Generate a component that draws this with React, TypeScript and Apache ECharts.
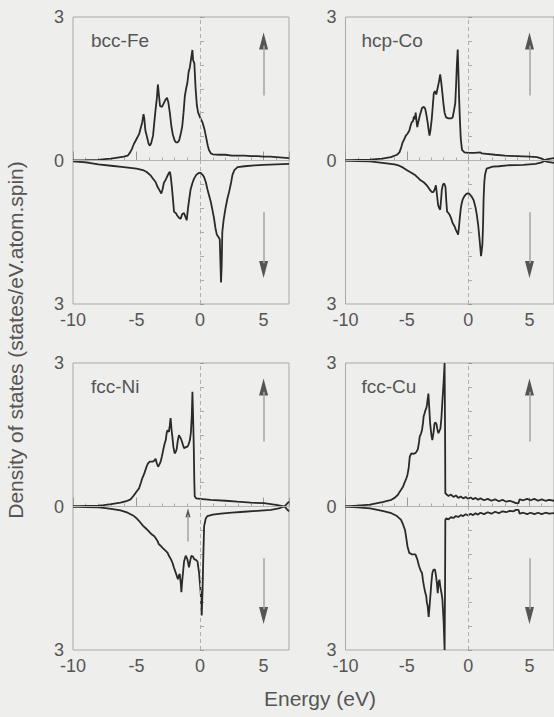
import React, { useEffect, useRef } from "react";
import * as echarts from "echarts";

// Spin-resolved density of states, [energy (eV), states/eV.atom.spin].
// Minority-spin values are stored as magnitudes and drawn below zero.
const feUp: number[][] = [
  [-10, 0], [-9, 0.005], [-8, 0.015], [-7.5, 0.03], [-7, 0.04], [-6.5, 0.06], [-6, 0.08], [-5.7, 0.1],
  [-5.5, 0.17], [-5.35, 0.25], [-5.2, 0.35], [-5.0, 0.45], [-4.8, 0.55], [-4.65, 0.7], [-4.55, 0.8],
  [-4.45, 0.97], [-4.4, 0.9], [-4.3, 0.62], [-4.2, 0.52], [-4.05, 0.35], [-3.95, 0.31], [-3.85, 0.36],
  [-3.7, 0.52], [-3.6, 0.8], [-3.5, 1.07], [-3.4, 1.3], [-3.32, 1.59], [-3.25, 1.4], [-3.15, 1.14],
  [-3.0, 1.12], [-2.85, 1.2], [-2.7, 1.28], [-2.6, 1.31], [-2.5, 1.22], [-2.38, 1.0], [-2.25, 0.7],
  [-2.15, 0.55], [-2.0, 0.42], [-1.9, 0.38], [-1.75, 0.38], [-1.65, 0.42], [-1.5, 0.58], [-1.4, 0.72],
  [-1.3, 1.0], [-1.2, 1.34], [-1.1, 1.5], [-1.0, 1.62], [-0.9, 1.85], [-0.8, 1.95], [-0.7, 2.14],
  [-0.6, 2.31], [-0.55, 2.1], [-0.45, 2.03], [-0.35, 1.5], [-0.25, 1.15], [-0.15, 1.0], [0.0, 0.9],
  [0.2, 0.79], [0.35, 0.65], [0.45, 0.52], [0.6, 0.32], [0.7, 0.22], [0.85, 0.15], [1.0, 0.13],
  [1.5, 0.12], [2.0, 0.12], [2.5, 0.1], [3.0, 0.1], [3.5, 0.1], [4.0, 0.09], [4.5, 0.09], [5.0, 0.08],
  [5.5, 0.08], [6.0, 0.07], [6.5, 0.06], [7.0, 0.05],
];
const feDown: number[][] = [
  [-10, 0.02], [-9, 0.04], [-8, 0.08], [-7, 0.11], [-6, 0.14], [-5, 0.17], [-4.5, 0.2], [-4.2, 0.24],
  [-3.9, 0.31], [-3.7, 0.38], [-3.5, 0.45], [-3.35, 0.55], [-3.2, 0.62], [-3.05, 0.69], [-2.95, 0.6],
  [-2.85, 0.47], [-2.7, 0.4], [-2.6, 0.34], [-2.45, 0.26], [-2.37, 0.24], [-2.3, 0.35], [-2.22, 0.55],
  [-2.12, 0.85], [-2.05, 1.07], [-1.9, 1.1], [-1.8, 1.15], [-1.65, 1.2], [-1.53, 1.22], [-1.4, 1.12],
  [-1.26, 1.1], [-1.15, 1.18], [-1.05, 1.25], [-0.95, 1.0], [-0.85, 0.8], [-0.74, 0.6], [-0.6, 0.47],
  [-0.47, 0.38], [-0.3, 0.3], [-0.1, 0.26], [0.05, 0.26], [0.2, 0.3], [0.32, 0.35], [0.45, 0.45],
  [0.58, 0.6], [0.7, 0.72], [0.84, 0.86], [0.95, 1.0], [1.1, 1.21], [1.2, 1.4], [1.32, 1.55],
  [1.45, 1.6], [1.55, 1.65], [1.6, 2.1], [1.65, 2.55], [1.7, 2.2], [1.75, 1.5], [1.85, 1.25],
  [2.0, 1.0], [2.15, 0.8], [2.3, 0.64], [2.45, 0.45], [2.55, 0.3], [2.7, 0.2], [2.95, 0.14],
  [3.5, 0.12], [4.3, 0.1], [5.0, 0.09], [6.0, 0.08], [7.0, 0.07],
];

const coUp: number[][] = [
  [-10, 0], [-9, 0.01], [-8, 0.02], [-7, 0.04], [-6.3, 0.07], [-5.8, 0.12], [-5.6, 0.17], [-5.45, 0.28],
  [-5.34, 0.38], [-5.2, 0.45], [-5.08, 0.52], [-4.95, 0.56], [-4.8, 0.62], [-4.7, 0.72], [-4.6, 0.8],
  [-4.5, 0.82], [-4.42, 0.92], [-4.35, 0.86], [-4.28, 1.0], [-4.2, 0.8], [-4.15, 0.7], [-4.05, 0.82],
  [-3.95, 0.93], [-3.85, 1.02], [-3.76, 1.1], [-3.6, 1.12], [-3.5, 1.08], [-3.4, 0.95], [-3.3, 0.79],
  [-3.2, 0.6], [-3.15, 0.52], [-3.08, 0.62], [-2.97, 0.86], [-2.88, 1.15], [-2.8, 1.41], [-2.7, 1.45],
  [-2.6, 1.38], [-2.5, 1.5], [-2.37, 1.66], [-2.28, 1.8], [-2.2, 1.65], [-2.1, 1.41], [-2.0, 1.15],
  [-1.92, 1.0], [-1.8, 0.9], [-1.6, 0.88], [-1.4, 0.88], [-1.26, 0.9], [-1.15, 1.05], [-1.05, 1.2],
  [-0.98, 1.6], [-0.92, 2.0], [-0.85, 2.32], [-0.8, 1.9], [-0.74, 1.34], [-0.68, 0.9], [-0.6, 0.45],
  [-0.5, 0.22], [-0.3, 0.17], [0, 0.16], [0.5, 0.16], [1.0, 0.17], [1.1, 0.15], [1.5, 0.14],
  [2.2, 0.12], [3.0, 0.1], [4.0, 0.09], [5.0, 0.08], [5.6, 0.07], [6.0, 0.04], [6.2, 0.01],
  [6.5, 0.03], [7.0, 0.05],
];
const coDown: number[][] = [
  [-10, 0], [-9, 0.01], [-8, 0.02], [-7, 0.05], [-6, 0.08], [-5.7, 0.1], [-5.3, 0.15], [-4.95, 0.21],
  [-4.6, 0.26], [-4.3, 0.31], [-4.1, 0.36], [-3.9, 0.41], [-3.6, 0.46], [-3.37, 0.52], [-3.2, 0.58],
  [-3.1, 0.62], [-2.95, 0.66], [-2.84, 0.66], [-2.72, 0.6], [-2.63, 0.52], [-2.55, 0.7], [-2.45, 0.93],
  [-2.35, 1.0], [-2.28, 1.03], [-2.2, 0.8], [-2.15, 0.62], [-2.05, 0.5], [-1.95, 0.48], [-1.85, 0.55],
  [-1.78, 0.85], [-1.72, 1.07], [-1.6, 1.1], [-1.5, 1.14], [-1.4, 1.2], [-1.26, 1.31], [-1.1, 1.38],
  [-1.0, 1.45], [-0.9, 1.5], [-0.82, 1.55], [-0.75, 1.4], [-0.68, 1.2], [-0.6, 1.0], [-0.53, 0.9],
  [-0.45, 0.82], [-0.34, 0.76], [-0.2, 0.71], [-0.08, 0.69], [0.05, 0.69], [0.18, 0.72], [0.3, 0.76],
  [0.45, 0.83], [0.6, 0.98], [0.71, 1.14], [0.82, 1.35], [0.92, 1.62], [1.0, 1.85], [1.05, 2.0],
  [1.1, 1.9], [1.16, 1.76], [1.22, 1.3], [1.26, 0.8], [1.32, 0.45], [1.37, 0.31], [1.5, 0.17],
  [2.0, 0.13], [2.5, 0.12], [3.2, 0.1], [4.5, 0.09], [5.5, 0.07], [6.0, 0.04], [6.2, 0.01],
  [6.5, 0.03], [7.0, 0.05],
];

const niUp: number[][] = [
  [-10, 0], [-9, 0.01], [-8, 0.02], [-7.6, 0.03], [-7, 0.05], [-6.26, 0.08], [-5.8, 0.11], [-5.47, 0.15],
  [-5.25, 0.22], [-5.08, 0.28], [-4.95, 0.33], [-4.8, 0.38], [-4.65, 0.5], [-4.55, 0.59], [-4.4, 0.68],
  [-4.3, 0.76], [-4.2, 0.84], [-4.1, 0.9], [-3.95, 0.94], [-3.75, 0.94], [-3.63, 0.95], [-3.5, 1.0],
  [-3.4, 0.9], [-3.3, 0.83], [-3.2, 0.88], [-3.1, 0.94], [-3.0, 1.05], [-2.9, 1.18], [-2.8, 1.3],
  [-2.7, 1.39], [-2.62, 1.55], [-2.55, 1.6], [-2.45, 1.56], [-2.38, 1.7], [-2.32, 1.85], [-2.25, 1.62],
  [-2.18, 1.46], [-2.1, 1.25], [-2.0, 1.11], [-1.9, 1.15], [-1.84, 1.2], [-1.75, 1.38], [-1.66, 1.49],
  [-1.55, 1.44], [-1.47, 1.39], [-1.36, 1.3], [-1.26, 1.22], [-1.1, 1.24], [-1.0, 1.25], [-0.9, 1.3],
  [-0.8, 1.39], [-0.72, 1.55], [-0.65, 1.9], [-0.6, 2.4], [-0.55, 1.9], [-0.5, 1.32], [-0.45, 0.5],
  [-0.42, 0.21], [-0.3, 0.17], [0, 0.16], [0.84, 0.14], [2.0, 0.12], [2.95, 0.1], [4.0, 0.08],
  [5.05, 0.07], [6.1, 0.03], [6.5, 0.01], [6.65, 0], [6.85, 0.06], [7.0, 0.1],
];
const niDown: number[][] = [
  [-10, 0], [-9, 0.01], [-8, 0.02], [-7.6, 0.03], [-7, 0.05], [-6.26, 0.08], [-5.7, 0.13], [-5.2, 0.2],
  [-4.95, 0.26], [-4.68, 0.34], [-4.5, 0.4], [-4.3, 0.45], [-4.1, 0.5], [-4.03, 0.52], [-3.9, 0.56],
  [-3.76, 0.59], [-3.6, 0.62], [-3.5, 0.66], [-3.35, 0.72], [-3.24, 0.79], [-3.1, 0.82], [-2.97, 0.86],
  [-2.85, 0.89], [-2.7, 0.93], [-2.55, 0.97], [-2.45, 1.03], [-2.3, 1.1], [-2.18, 1.17], [-2.05, 1.28],
  [-1.92, 1.38], [-1.82, 1.46], [-1.74, 1.52], [-1.68, 1.45], [-1.6, 1.41], [-1.52, 1.6], [-1.47, 1.79],
  [-1.42, 1.6], [-1.34, 1.38], [-1.26, 1.15], [-1.13, 1.03], [-1.0, 1.1], [-0.87, 1.27], [-0.75, 1.1],
  [-0.68, 1.03], [-0.55, 1.05], [-0.47, 1.1], [-0.3, 1.12], [-0.2, 1.15], [-0.08, 1.38], [0.05, 1.8],
  [0.13, 2.28], [0.2, 1.72], [0.26, 1.0], [0.32, 0.41], [0.45, 0.25], [0.58, 0.2], [1.0, 0.17],
  [1.63, 0.15], [2.5, 0.13], [3.47, 0.11], [4.5, 0.09], [5.58, 0.07], [6.2, 0.04], [6.5, 0.01],
  [6.65, 0], [6.85, 0.06], [7.0, 0.1],
];

const cuUp: number[][] = [
  [-10, 0], [-9, 0.02], [-8, 0.04], [-7.6, 0.06], [-7, 0.09], [-6.26, 0.14], [-6.0, 0.18], [-5.74, 0.24],
  [-5.6, 0.3], [-5.47, 0.35], [-5.3, 0.42], [-5.2, 0.49], [-5.05, 0.58], [-4.95, 0.66], [-4.85, 0.8],
  [-4.76, 1.04], [-4.63, 1.11], [-4.45, 1.1], [-4.29, 1.12], [-4.2, 1.15], [-4.1, 1.2], [-4.0, 1.35],
  [-3.95, 1.46], [-3.85, 1.52], [-3.76, 1.6], [-3.68, 1.75], [-3.63, 1.88], [-3.55, 1.95], [-3.5, 2.0],
  [-3.42, 2.05], [-3.37, 2.1], [-3.3, 2.25], [-3.24, 2.36], [-3.18, 2.1], [-3.1, 1.74], [-3.0, 1.5],
  [-2.92, 1.39], [-2.82, 1.55], [-2.75, 1.72], [-2.68, 1.76], [-2.58, 1.72], [-2.5, 1.6], [-2.42, 1.53],
  [-2.35, 1.58], [-2.26, 1.63], [-2.18, 1.85], [-2.1, 2.2], [-2.0, 2.6], [-1.92, 3.0], [-1.88, 1.5],
  [-1.86, 0.28], [-1.8, 0.26], [-1.6, 0.22], [-1.4, 0.25], [-1.2, 0.2], [-1.0, 0.23], [-0.8, 0.18],
  [-0.6, 0.21], [-0.4, 0.17], [-0.2, 0.2], [0.0, 0.16], [0.2, 0.19], [0.4, 0.15], [0.6, 0.18],
  [0.8, 0.14], [1.0, 0.17], [1.3, 0.13], [1.6, 0.16], [1.9, 0.12], [2.2, 0.15], [2.5, 0.11],
  [2.8, 0.14], [3.1, 0.1], [3.4, 0.12], [3.7, 0.09], [3.9, 0.07], [4.1, 0.07], [4.2, 0.15],
  [4.5, 0.13], [4.8, 0.16], [5.1, 0.13], [5.4, 0.16], [5.7, 0.12], [6.0, 0.15], [6.3, 0.12],
  [6.6, 0.14], [7.0, 0.12],
];
const cuDown: number[][] = [
  [-10, 0], [-9, 0.02], [-8, 0.04], [-7.6, 0.06], [-7, 0.09], [-6.26, 0.14], [-5.8, 0.2], [-5.47, 0.28],
  [-5.3, 0.38], [-5.15, 0.49], [-5.05, 0.65], [-4.95, 0.83], [-4.8, 0.97], [-4.6, 1.0], [-4.3, 1.0],
  [-4.15, 1.1], [-4.0, 1.25], [-3.85, 1.35], [-3.76, 1.39], [-3.68, 1.55], [-3.6, 1.67], [-3.5, 1.8],
  [-3.42, 1.87], [-3.37, 2.0], [-3.3, 2.08], [-3.22, 2.31], [-3.15, 2.1], [-3.1, 1.94], [-3.0, 1.6],
  [-2.92, 1.39], [-2.82, 1.32], [-2.7, 1.32], [-2.62, 1.45], [-2.55, 1.6], [-2.48, 1.81], [-2.42, 1.6],
  [-2.34, 1.53], [-2.26, 1.69], [-2.18, 1.8], [-2.1, 1.94], [-2.0, 2.4], [-1.92, 3.0], [-1.88, 1.5],
  [-1.86, 0.28], [-1.8, 0.25], [-1.6, 0.27], [-1.4, 0.22], [-1.2, 0.24], [-1.0, 0.2], [-0.8, 0.22],
  [-0.6, 0.18], [-0.4, 0.2], [-0.2, 0.16], [0.0, 0.19], [0.2, 0.15], [0.4, 0.18], [0.6, 0.14],
  [0.8, 0.17], [1.0, 0.13], [1.3, 0.16], [1.6, 0.12], [1.9, 0.15], [2.2, 0.11], [2.5, 0.14],
  [2.8, 0.1], [3.1, 0.12], [3.4, 0.09], [3.7, 0.1], [3.9, 0.07], [4.1, 0.07], [4.2, 0.15],
  [4.5, 0.13], [4.8, 0.16], [5.1, 0.13], [5.4, 0.16], [5.7, 0.13], [6.0, 0.16], [6.3, 0.13],
  [6.6, 0.15], [7.0, 0.14],
];

const panelNames = ["bcc-Fe", "hcp-Co", "fcc-Ni", "fcc-Cu"];
const majority = [feUp, coUp, niUp, cuUp];
const minority = [feDown, coDown, niDown, cuDown];

// Axis ranges and tick steps
const energyMin = -10;
const energyMax = 7;
const energyStep = 5;
const dosLimit = 3;

// Spin arrows: x position and y extents (shaft from/to, head centre)
const spinArrowX = 5;
const upShaft = [1.36, 2.4];
const upHead = 2.5;
const downShaft = [-1.08, -2.15];
const downHead = -2.28;
// small exchange-splitting arrow in the Ni panel
const niArrowX = -0.95;
const niShaft = [-0.73, -0.18];
const niHead = -0.13;

const FONT = "'Liberation Sans', Arial, Helvetica, sans-serif";
const INK = "#2a2a2a";
const TEXT = "#555";
const FRAME = "#a9a9a9";

const colLeft = [73, 345.5];
const rowTop = [17, 363];
const plotW = 216;
const plotH = 287;

function buildOption(): echarts.EChartsCoreOption {
  const grid = panelNames.map((_, i) => ({
    left: colLeft[i % 2],
    top: rowTop[Math.floor(i / 2)],
    width: plotW,
    height: plotH,
    show: true,
    borderColor: FRAME,
    borderWidth: 1,
    backgroundColor: "transparent",
  }));

  const xAxis = panelNames.map((_, i) => ({
    type: "value",
    gridIndex: i,
    min: energyMin,
    max: energyMax,
    interval: energyStep,
    axisLine: { show: false },
    axisTick: { show: true, inside: true, length: 9, lineStyle: { color: "#999", width: 1 } },
    minorTick: { show: true, splitNumber: 5, length: 3, lineStyle: { color: "#aaa", width: 1 } },
    splitLine: { show: false },
    axisLabel: {
      showMaxLabel: false,
      color: TEXT,
      fontSize: 18,
      fontFamily: FONT,
      margin: 7,
    },
  }));

  const yAxis = panelNames.map((_, i) => ({
    type: "value",
    gridIndex: i,
    min: -dosLimit,
    max: dosLimit,
    interval: dosLimit,
    axisLine: { show: false },
    axisTick: { show: true, inside: true, length: 4, lineStyle: { color: "#999", width: 1 } },
    minorTick: { show: true, splitNumber: 6, length: 4, lineStyle: { color: "#aaa", width: 1 } },
    splitLine: { show: false },
    axisLabel: {
      color: TEXT,
      fontSize: 18,
      fontFamily: FONT,
      margin: 9,
      formatter: (v: number) => String(Math.abs(v)),
    },
  }));

  const series: any[] = [];
  panelNames.forEach((name, i) => {
    const shafts: any[] = [
      [{ coord: [spinArrowX, upShaft[0]] }, { coord: [spinArrowX, upShaft[1]] }],
      [{ coord: [spinArrowX, downShaft[0]] }, { coord: [spinArrowX, downShaft[1]] }],
    ];
    const heads: any[] = [
      { value: [spinArrowX, upHead] },
      { value: [spinArrowX, downHead], symbolRotate: 180 },
    ];
    if (name === "fcc-Ni") {
      shafts.push([{ coord: [niArrowX, niShaft[0]] }, { coord: [niArrowX, niShaft[1]] }]);
      heads.push({ value: [niArrowX, niHead], symbolSize: [5, 9] });
    }

    // reference lines and spin arrows
    series.push({
      type: "scatter",
      name: name + " arrows",
      xAxisIndex: i,
      yAxisIndex: i,
      z: 1,
      silent: true,
      symbol: "triangle",
      symbolSize: [9, 17],
      itemStyle: { color: "#2e2e2e" },
      data: heads,
      markLine: {
        silent: true,
        symbol: ["none", "none"],
        label: { show: false },
        data: [
          { yAxis: 0, lineStyle: { color: "#b4b4b4", width: 1, type: "solid" } },
          { xAxis: 0, lineStyle: { color: "#b0b0b0", width: 1, type: [4, 3] } },
          ...shafts.map((s) => s.map((p: any, k: number) =>
            k === 0 ? { ...p, lineStyle: { color: "#a8a8a8", width: 1.6, type: "solid" } } : p)),
        ],
      },
    });

    series.push({
      type: "line",
      name: name + " majority",
      xAxisIndex: i,
      yAxisIndex: i,
      z: 3,
      symbol: "none",
      showSymbol: false,
      clip: true,
      lineStyle: { color: INK, width: 1.8 },
      data: majority[i],
    });
    series.push({
      type: "line",
      name: name + " minority",
      xAxisIndex: i,
      yAxisIndex: i,
      z: 3,
      symbol: "none",
      showSymbol: false,
      clip: true,
      lineStyle: { color: INK, width: 1.8 },
      data: minority[i].map(([e, d]) => [e, -d]),
    });
  });

  const graphic: any[] = panelNames.map((name, i) => ({
    type: "text",
    x: colLeft[i % 2] + (i % 2 === 0 ? 18 : 16),
    y: rowTop[Math.floor(i / 2)] + 23,
    style: {
      text: name,
      fill: TEXT,
      font: `19px ${FONT}`,
      verticalAlign: "middle",
      align: "left",
    },
  }));
  graphic.push({
    type: "text",
    x: 15,
    y: 340,
    rotation: Math.PI / 2,
    style: {
      text: "Density of states (states/eV.atom.spin)",
      fill: TEXT,
      font: `21px ${FONT}`,
      align: "center",
      verticalAlign: "middle",
    },
  });
  graphic.push({
    type: "text",
    x: 320,
    y: 698,
    style: {
      text: "Energy (eV)",
      fill: TEXT,
      font: `21px ${FONT}`,
      align: "center",
      verticalAlign: "middle",
    },
  });

  return {
    animation: false,
    backgroundColor: "#eeeeec",
    grid,
    xAxis,
    yAxis,
    series,
    graphic,
  };
}

export default function App() {
  const ref = useRef<HTMLDivElement>(null);

  useEffect(() => {
    if (!ref.current) return;
    const chart = echarts.init(ref.current, undefined, { renderer: "svg" });
    chart.setOption(buildOption());
    return () => chart.dispose();
  }, []);

  return (
    <div
      style={{ position: "absolute", left: 0, top: 0, width: 554, height: 717, overflow: "hidden" }}
    >
      <div ref={ref} style={{ width: 554, height: 717 }} />
    </div>
  );
}
